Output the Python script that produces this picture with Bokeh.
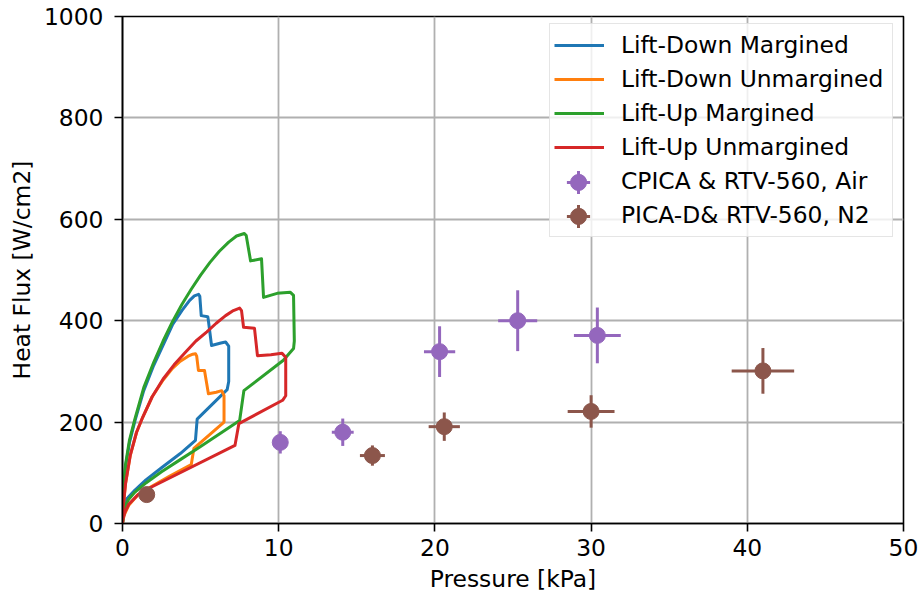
from bokeh.plotting import figure
from bokeh.models import ColumnDataSource, Legend, LegendItem, FixedTicker, Range1d
from bokeh.embed import file_html
from bokeh.resources import INLINE

# ---- data ----
ld_marg_x = [0, 0.05, 0.2, 0.45, 0.8, 1.36, 2.0, 2.6, 3.2, 3.8, 4.3, 4.6, 4.87, 4.95, 5.04, 5.46,
             5.5, 5.7, 6.3, 6.6, 6.8, 6.8, 6.7, 4.78, 4.67, 3.7, 2.5, 1.5, 0.8, 0.35, 0.2, 0.15, 0]
ld_marg_y = [0, 65, 113, 160, 203, 262, 312, 352, 392, 420, 440, 449, 452, 448, 410, 408,
             400, 351, 356, 358, 350, 280, 264, 206, 164, 138, 110, 86, 66, 51, 47, 33, 0]

ld_unmarg_x = [0, 0.05, 0.2, 0.5, 0.9, 1.3, 1.9, 2.6, 3.2, 3.7, 4.2, 4.5, 4.67, 4.75, 4.86, 5.25,
               5.5, 6.0, 6.35, 6.5, 6.5, 4.57, 4.4, 3.0, 1.8, 1.0, 0.4, 0.1, 0]
ld_unmarg_y = [0, 35, 80, 135, 180, 210, 250, 283, 306, 320, 330, 334, 335, 330, 302, 302,
               256, 259, 262, 252, 200, 148, 116, 93, 72, 57, 36, 16, 0]

lu_marg_x = [0, 0.05, 0.2, 0.45, 0.8, 1.36, 2.0, 2.6, 3.2, 3.8, 4.4, 5.0, 5.6, 6.2, 6.8, 7.3, 7.8,
             7.92, 8.2, 8.9, 9.03, 9.9, 10.75, 10.95, 11.0, 10.95, 10.3, 7.77, 7.5, 5.0, 3.7, 2.5,
             1.5, 0.8, 0.4, 0.15, 0]
lu_marg_y = [0, 70, 118, 165, 207, 268, 318, 360, 398, 432, 462, 490, 515, 537, 555, 567, 572,
             568, 518, 522, 446, 454, 456, 450, 360, 345, 322, 262, 203, 152, 126, 102,
             80, 62, 48, 33, 0]

lu_unmarg_x = [0, 0.05, 0.2, 0.5, 0.9, 1.3, 1.9, 2.6, 3.3, 4.0, 4.7, 5.4, 6.0, 6.6, 7.1, 7.5, 7.62,
               7.75, 8.45, 8.64, 9.5, 10.2, 10.45, 10.45, 10.25, 7.45, 7.2, 1.8, 1.0, 0.4, 0.15, 0.03, 0]
lu_unmarg_y = [0, 35, 80, 135, 180, 210, 250, 285, 313, 337, 360, 378, 395, 410, 420, 425, 420,
               387, 385, 331, 333, 336, 328, 252, 243, 197, 154, 71, 57, 38, 22, 8, 0]

cpica_x = [10.1, 14.1, 20.3, 25.3, 30.4]
cpica_y = [160, 180, 339, 400, 371]
cpica_xerr = [0.3, 0.7, 1.0, 1.25, 1.5]
cpica_yerr = [22, 27, 50, 60, 55]

picad_x = [1.55, 16.0, 20.6, 30.0, 41.0]
picad_y = [57, 134, 191, 221, 301]
picad_xerr = [0.3, 0.8, 1.0, 1.5, 2.0]
picad_yerr = [8, 20, 28, 32, 45]

x_ticks = [0, 10, 20, 30, 40, 50]
y_ticks = [0, 200, 400, 600, 800, 1000]

labels = ["Lift-Down Margined", "Lift-Down Unmargined", "Lift-Up Margined",
          "Lift-Up Unmargined", "CPICA & RTV-560, Air", "PICA-D& RTV-560, N2"]

BLUE, ORANGE, GREEN, RED = "#1f77b4", "#ff7f0e", "#2ca02c", "#d62728"
PURPLE, BROWN = "#9467bd", "#8c564b"
FONT = "DejaVu Sans"
FS = "23.4px"

FRAME_W, FRAME_H = 781, 507
p = figure(width=920, height=597, x_range=Range1d(0, 50), y_range=Range1d(0, 1000),
           output_backend="svg", toolbar_location=None,
           min_border_left=122, min_border_right=17, min_border_top=16, min_border_bottom=74)
p.background_fill_color = "white"
p.border_fill_color = "white"
p.outline_line_color = "black"
p.outline_line_width = 1.6

for ax in (p.xaxis[0], p.yaxis[0]):
    ax.axis_line_width = 1.6
    ax.major_tick_line_width = 1.6
    ax.major_tick_out = 8
    ax.major_tick_in = 0
    ax.minor_tick_line_color = None
    ax.major_label_text_font = FONT
    ax.major_label_text_font_size = FS
    ax.major_label_text_color = "black"
    ax.axis_label_text_font = FONT
    ax.axis_label_text_font_size = FS
    ax.axis_label_text_font_style = "normal"
    ax.axis_label_text_color = "black"

p.xaxis.ticker = FixedTicker(ticks=x_ticks)
p.yaxis.ticker = FixedTicker(ticks=y_ticks)
p.xaxis.axis_label = "Pressure [kPa]"
p.yaxis.axis_label = "Heat Flux [W/cm2]"
p.xaxis.major_label_standoff = 7
p.xaxis.axis_label_standoff = 6
p.yaxis.major_label_standoff = 11
p.yaxis.axis_label_standoff = 5

p.xgrid.ticker = FixedTicker(ticks=x_ticks)
p.ygrid.ticker = FixedTicker(ticks=y_ticks)
for g in (p.xgrid[0], p.ygrid[0]):
    g.grid_line_color = "#b0b0b0"
    g.grid_line_width = 1.8

LW = 3
r1 = p.line(ld_marg_x, ld_marg_y, line_color=BLUE, line_width=LW, line_join="round")
r2 = p.line(ld_unmarg_x, ld_unmarg_y, line_color=ORANGE, line_width=LW, line_join="round")
r3 = p.line(lu_marg_x, lu_marg_y, line_color=GREEN, line_width=LW, line_join="round")
r4 = p.line(lu_unmarg_x, lu_unmarg_y, line_color=RED, line_width=LW, line_join="round")


def errorbars(xs, ys, xe, ye, color):
    src = ColumnDataSource(dict(
        x=xs, y=ys,
        xl=[a - b for a, b in zip(xs, xe)], xr=[a + b for a, b in zip(xs, xe)],
        yl=[a - b for a, b in zip(ys, ye)], yh=[a + b for a, b in zip(ys, ye)],
    ))
    p.segment(x0="xl", y0="y", x1="xr", y1="y", source=src, line_color=color, line_width=3)
    p.segment(x0="x", y0="yl", x1="x", y1="yh", source=src, line_color=color, line_width=3)
    # legend-only cross (size 0 on the plot; the legend sizes its own glyph)
    cross = p.scatter(x="x", y="y", source=src, marker="cross", size=0,
                      line_color=color, line_width=3)
    circ = p.scatter(x="x", y="y", source=src, size=16, marker="circle",
                     fill_color=color, line_color=color, line_width=1)
    return cross, circ


cross1, circ1 = errorbars(cpica_x, cpica_y, cpica_xerr, cpica_yerr, PURPLE)
cross2, circ2 = errorbars(picad_x, picad_y, picad_xerr, picad_yerr, BROWN)

# ---- legend layout (frame pixels) ----
LEG_LEFT, LEG_TOP, PAD, ROW, GW = 427, 9, 4, 34, 50
N = len(labels)
LEG_H = N * ROW + 2 * PAD
legend = Legend(items=[LegendItem(label=lab, renderers=[r]) for lab, r in
                       zip(labels, [r1, r2, r3, r4, circ1, circ2])],
                location=(LEG_LEFT, FRAME_H - LEG_TOP - LEG_H))
legend.label_text_font = FONT
legend.label_text_font_size = FS
legend.label_text_color = "black"
legend.glyph_width = GW
legend.glyph_height = ROW
legend.label_height = ROW
legend.label_width = 267
legend.spacing = 0
legend.padding = PAD
legend.margin = 0
legend.label_standoff = 17
legend.border_line_color = "#cccccc"
legend.border_line_width = 1.5
legend.background_fill_alpha = 0.8
p.add_layout(legend)

GLYPH_CX = LEG_LEFT + PAD + GW // 2


def overlay(renderer, row, size):
    cy = LEG_TOP + PAD + row * ROW + ROW // 2
    box = int(round(size / 0.4))
    lg = Legend(items=[LegendItem(label=" ", renderers=[renderer])],
                location=(GLYPH_CX - box / 2, FRAME_H - (cy + box / 2)))
    lg.glyph_width = box
    lg.glyph_height = box
    lg.label_height = 0
    lg.label_width = 0
    lg.label_standoff = 0
    lg.padding = 0
    lg.spacing = 0
    lg.margin = 0
    lg.background_fill_alpha = 0
    lg.border_line_alpha = 0
    lg.label_text_alpha = 0
    p.add_layout(lg)


overlay(cross1, 4, 23)
overlay(cross2, 5, 23)
overlay(circ1, 4, 16)
overlay(circ2, 5, 16)

open("out.html", "w").write(file_html(p, INLINE))
